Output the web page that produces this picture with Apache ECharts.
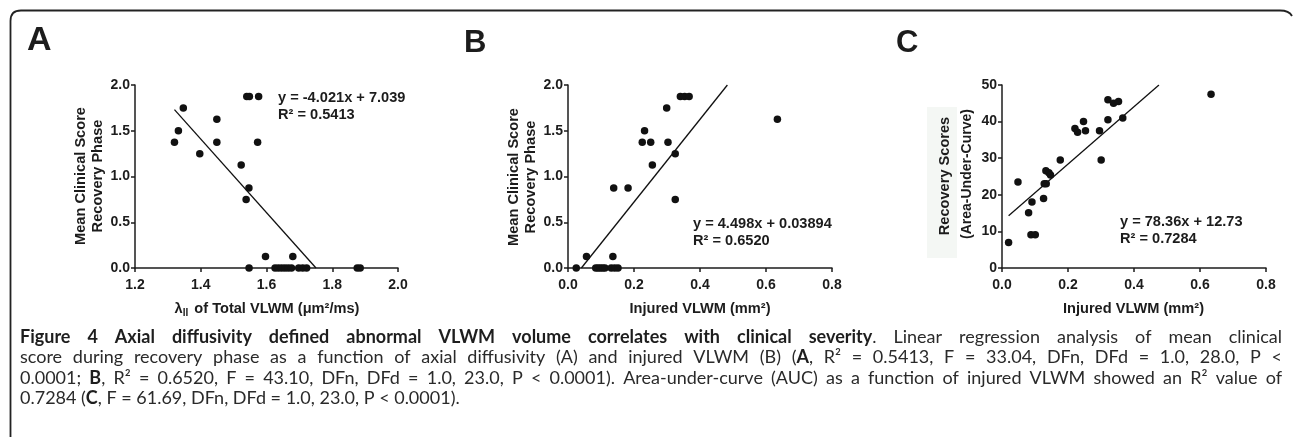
<!DOCTYPE html>
<html><head><meta charset="utf-8">
<script src="https://cdn.jsdelivr.net/npm/echarts@6/dist/echarts.min.js"></script>
<style>html,body{margin:0;padding:0;background:#fff;}#c{width:1293px;height:437px;}</style>
</head><body><div id="c"></div>
<script>
// ---------- DATA ----------
const aX = [1.320,1.332,1.347,1.397,1.449,1.449,1.523,1.540,1.548,1.576,1.573,1.5465,1.538,1.547,1.597,1.680,
            1.626,1.636,1.646,1.656,1.666,1.676,1.698,1.710,1.722,1.876,1.885];
const aY = [1.375,1.5,1.75,1.25,1.625,1.375,1.125,1.875,1.875,1.875,1.375,0.875,0.75,0,0.125,0.125,
            0,0,0,0,0,0,0,0,0,0,0];
const aFit = [[1.32,1.731],[1.7506,0]];

const bX = [0.025,0.056,0.084,0.091,0.098,0.105,0.112,0.136,0.131,0.1415,0.1515,0.1385,0.182,0.225,0.232,0.2506,0.2556,0.299,0.303,0.325,0.325,0.3405,0.3535,0.367,0.6345];
const bY = [0,0.125,0,0,0,0,0,0.125,0,0,0,0.875,0.875,1.375,1.5,1.375,1.125,1.75,1.375,1.25,0.75,1.875,1.875,1.875,1.625];
const bFit = [[0.0405,0],[0.483,2.0]];

const cX = [0.020,0.0484,0.0806,0.0908,0.0878,0.1008,0.126,0.128,0.134,0.133,0.142,0.147,0.1766,0.221,0.229,0.247,0.253,0.2955,0.3005,0.321,0.321,0.338,0.353,0.366,0.6335];
const cY = [7.0,23.5,15.1,18.0,9.1,9.1,19.0,23.0,23.0,26.6,26.0,25.4,29.5,38.1,37.1,40.0,37.5,37.5,29.5,46.0,40.5,45.0,45.5,41.0,47.5];
const cFit = [[0.02,14.3],[0.4756,50]];

const aTicksX = {min:1.2,max:2.0,interval:0.2};
const aTicksY = {min:0,max:2.0,interval:0.5};
const bTicksX = {min:0,max:0.8,interval:0.2};
const bTicksY = {min:0,max:2.0,interval:0.5};
const cTicksX = {min:0,max:0.8,interval:0.2};
const cTicksY = {min:0,max:50,interval:10};

const eqA = ['y = -4.021x + 7.039','R² = 0.5413'];
const eqB = ['y = 4.498x + 0.03894','R² = 0.6520'];
const eqC = ['y = 78.36x + 12.73','R² = 0.7284'];

const captionLines = [
 [['b','Figure 4 Axial diffusivity defined abnormal VLWM volume correlates with clinical severity'],['n','. Linear regression analysis of mean clinical']],
 [['n','score during recovery phase as a function of axial diffusivity (A) and injured VLWM (B) ('],['b','A'],['n',', R² = 0.5413, F = 33.04, DFn, DFd = 1.0, 28.0, P <']],
 [['n','0.0001; '],['b','B'],['n',', R² = 0.6520, F = 43.10, DFn, DFd = 1.0, 23.0, P < 0.0001). Area-under-curve (AUC) as a function of injured VLWM showed an R² value of']],
 [['n','0.7284 ('],['b','C'],['n',', F = 61.69, DFn, DFd = 1.0, 23.0, P < 0.0001).']]
];

// ---------- STYLE ----------
const INK = '#1c1c1c';
const FF = '"Liberation Sans", Arial, sans-serif';
const TS = 14.6; // title / annotation font size
const zip = (xs, ys) => xs.map((x, i) => [x, ys[i]]);

function mkX(idx, t, dec) {
  return {gridIndex: idx, type: 'value', min: t.min, max: t.max, interval: t.interval,
    axisLine: {onZero: false, lineStyle: {color: INK, width: 1.5}},
    axisTick: {show: true, length: 4, lineStyle: {color: INK, width: 1.5}},
    axisLabel: {margin: 10, color: INK, fontFamily: FF, fontWeight: 'bold', fontSize: 14,
      formatter: v => v.toFixed(dec)},
    splitLine: {show: false}};
}
function mkY(idx, t, dec) {
  return {gridIndex: idx, type: 'value', min: t.min, max: t.max, interval: t.interval,
    axisLine: {show: true, onZero: false, lineStyle: {color: INK, width: 1.5}},
    axisTick: {show: true, length: 4, lineStyle: {color: INK, width: 1.5}},
    axisLabel: {margin: 5, color: INK, fontFamily: FF, fontWeight: 'bold', fontSize: 14,
      formatter: v => v.toFixed(dec)},
    splitLine: {show: false}};
}
function scat(idx, data) {
  return {type: 'scatter', xAxisIndex: idx, yAxisIndex: idx, data: data, symbolSize: 7.5,
    itemStyle: {color: '#111', opacity: 1}, silent: true, z: 3};
}
function fit(idx, data) {
  return {type: 'line', xAxisIndex: idx, yAxisIndex: idx, data: data, symbol: 'none',
    lineStyle: {color: '#111', width: 1.3}, silent: true, z: 2};
}

const g = [];
function txt(x, y, text, opt) {
  opt = opt || {};
  g.push({type: 'text', x: x, y: y, rotation: opt.rot || 0, silent: true,
    style: Object.assign({text: text, fill: INK, fontFamily: FF, fontWeight: 'bold', fontSize: opt.size || TS,
      align: opt.align || 'left', textAlign: opt.align || 'left',
      verticalAlign: 'middle', textVerticalAlign: 'middle'}, opt.style || {})});
}

// frame (left + top border with rounded corners)
const frameStyle = {fill: 'none', stroke: '#222', lineWidth: 1.8};
g.push({type: 'polyline', silent: true, shape: {points: [[10.5, 437], [10.5, 21]]}, style: frameStyle});
g.push({type: 'bezierCurve', silent: true, shape: {x1: 10.5, y1: 21, cpx1: 10.5, cpy1: 10.5, x2: 21, y2: 10.5}, style: frameStyle});
g.push({type: 'polyline', silent: true, shape: {points: [[21, 10.5], [1280, 10.5]]}, style: frameStyle});
g.push({type: 'bezierCurve', silent: true, shape: {x1: 1280, y1: 10.5, cpx1: 1289, cpy1: 10.5, x2: 1292, y2: 16}, style: frameStyle});

// panel letters
txt(27, 41, 'A', {size: 34});
txt(464, 43, 'B', {size: 31});
txt(896, 43, 'C', {size: 31});

// faint background behind C's title
g.push({type: 'rect', silent: true, z: -1, shape: {x: 927, y: 107, width: 30, height: 151}, style: {fill: '#f4f7f4'}});

// y titles
txt(80.5, 176, 'Mean Clinical Score', {rot: Math.PI / 2, align: 'center'});
txt(98, 176, 'Recovery Phase', {rot: Math.PI / 2, align: 'center'});
txt(514, 177, 'Mean Clinical Score', {rot: Math.PI / 2, align: 'center'});
txt(531, 177, 'Recovery Phase', {rot: Math.PI / 2, align: 'center'});
txt(945, 176, 'Recovery Scores', {rot: Math.PI / 2, align: 'center'});
txt(967.5, 174, '(Area-Under-Curve)', {rot: Math.PI / 2, align: 'center', size: 14});

// x titles
txt(267, 309, '{m|λ}{s|II}{m| of Total VLWM (μm²/ms)}', {align: 'center', style: {rich: {
  m: {fontFamily: FF, fontWeight: 'bold', fontSize: TS, fill: INK, lineHeight: 18, verticalAlign: 'middle'},
  s: {fontFamily: FF, fontWeight: 'bold', fontSize: 10, fill: INK, lineHeight: 14, verticalAlign: 'bottom', padding: [0, 2, 0, 0]}}}});
txt(700, 309, 'Injured VLWM (mm²)', {align: 'center'});
txt(1133.5, 309, 'Injured VLWM (mm²)', {align: 'center'});

// equations
txt(278, 98, eqA[0]); txt(278, 115, eqA[1]);
txt(693, 224, eqB[0]); txt(693, 241, eqB[1]);
txt(1120, 222, eqC[0]); txt(1120, 239, eqC[1]);

// ---------- CAPTION (justified) ----------
(function () {
  const cv = document.createElement('canvas').getContext('2d');
  const CF = 'Lato, "Open Sans", sans-serif';
  const left = 20, right = 1282, W = right - left;
  const fontOf = (s, fs) => (s === 'b' ? 'bold ' : '') + fs + 'px ' + CF;
  function words(line) {
    const chars = [];
    line.forEach(([s, t]) => { for (const ch of t) chars.push([s, ch]); });
    const ws = []; let cur = [];
    chars.forEach(([s, ch]) => {
      if (ch === ' ') { if (cur.length) ws.push(cur); cur = []; return; }
      if (cur.length && cur[cur.length - 1][0] === s) cur[cur.length - 1][1] += ch; else cur.push([s, ch]);
    });
    if (cur.length) ws.push(cur);
    return ws;
  }
  function wWidth(w, fs) { return w.reduce((a, [s, t]) => { cv.font = fontOf(s, fs); return a + cv.measureText(t).width; }, 0); }
  function natural(l, fs) {
    const ws = words(l);
    cv.font = fontOf('n', fs);
    const sp = cv.measureText(' ').width;
    return ws.reduce((a, w) => a + wWidth(w, fs), 0) + (ws.length - 1) * sp;
  }
  let fs = 17;
  fs = fs * 445 / natural(captionLines[3], fs);
  fs = Math.min(fs, 18);
  let maxNat = 0;
  captionLines.slice(0, 3).forEach(l => { maxNat = Math.max(maxNat, natural(l, fs)); });
  if (maxNat > W - 6) fs = fs * (W - 6) / maxNat;
  const ys = [337, 357.5, 378, 398.5];
  captionLines.forEach((l, li) => {
    const ws = words(l);
    const widths = ws.map(w => wWidth(w, fs));
    cv.font = fontOf('n', fs);
    const sp = cv.measureText(' ').width;
    const tot = widths.reduce((a, b) => a + b, 0);
    const gap = li < 3 ? (W - tot) / (ws.length - 1) : sp;
    let x = left;
    ws.forEach((w, i) => {
      const text = w.map(([s, t]) => '{' + s + '|' + t + '}').join('');
      g.push({type: 'text', x: x, y: ys[li], silent: true, style: {text: text, align: 'left', textAlign: 'left',
        verticalAlign: 'middle', textVerticalAlign: 'middle',
        rich: {b: {fontFamily: CF, fontWeight: 'bold', fontSize: fs, fill: '#1e1e1e'},
               n: {fontFamily: CF, fontWeight: 'normal', fontSize: fs, fill: '#2a2a2a'}}}});
      x += widths[i] + gap;
    });
  });
})();

const chart = echarts.init(document.getElementById('c'), null, {renderer: 'canvas'});
chart.setOption({
  animation: false,
  backgroundColor: '#fff',
  grid: [
    {left: 135, top: 85, width: 263, height: 183},
    {left: 568, top: 85, width: 264, height: 183},
    {left: 1002, top: 85, width: 264, height: 183}
  ],
  xAxis: [mkX(0, aTicksX, 1), mkX(1, bTicksX, 1), mkX(2, cTicksX, 1)],
  yAxis: [mkY(0, aTicksY, 1), mkY(1, bTicksY, 1), mkY(2, cTicksY, 0)],
  series: [
    scat(0, zip(aX, aY)), fit(0, aFit),
    scat(1, zip(bX, bY)), fit(1, bFit),
    scat(2, zip(cX, cY)), fit(2, cFit)
  ],
  graphic: {elements: g}
});
</script></body></html>
